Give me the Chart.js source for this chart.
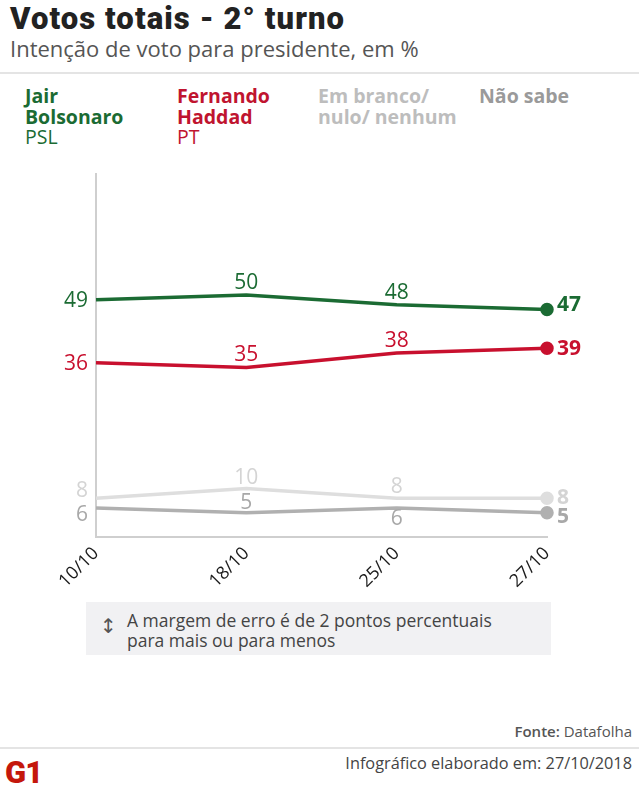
<!DOCTYPE html>
<html lang="pt-BR">
<head>
<meta charset="utf-8">
<script src="https://cdn.jsdelivr.net/npm/chart.js@4.4.1/dist/chart.umd.min.js"></script>
<style>
  html, body { margin:0; padding:0; background:#fff; }
  body { width:639px; height:793px; position:relative; overflow:hidden; font-family:"Open Sans", sans-serif; }
  .abs { position:absolute; white-space:nowrap; }
  #title { left:10px; top:3px; font:900 31px/1 Roboto, sans-serif; color:#222; letter-spacing:1.1px; }
  #subtitle { left:10px; top:37px; font:400 22px/1 "Open Sans", sans-serif; color:#555; }
  .rule { position:absolute; left:0; width:639px; height:2px; background:#e4e4e4; }
  .leg { position:absolute; top:86px; font-size:19.5px; line-height:20.5px; }
  .leg b { font-weight:700; }
  #box { left:86px; top:602px; width:465px; height:53px; background:#f1f1f3; }
  #arrow { left:100px; top:616px; font:400 20px/1 "DejaVu Sans", sans-serif; color:#555; }
  #boxtext { left:127px; top:610px; font:400 17.5px/20px "Open Sans", sans-serif; color:#444; }
  #fonte { right:7px; top:724px; font:400 15px/1 "Open Sans", sans-serif; color:#555; }
  #fonte b { font-weight:600; }
  #made { right:7px; top:755px; font:400 16.3px/1 "Open Sans", sans-serif; color:#444; }
  #logo { left:5px; top:757px; font:900 31px/1 Roboto, sans-serif; color:#c4170c; letter-spacing:-1px; }
  #chart { position:absolute; left:0; top:160px; }
</style>
</head>
<body>
<div id="title" class="abs">Votos totais - 2° turno</div>
<div id="subtitle" class="abs">Intenção de voto para presidente, em %</div>
<div class="rule" style="top:72px"></div>

<div class="leg" style="left:25px;color:#1b6b33"><b>Jair<br>Bolsonaro</b><br>PSL</div>
<div class="leg" style="left:177px;color:#c0142f"><b>Fernando<br>Haddad</b><br>PT</div>
<div class="leg" style="left:318px;color:#bdbdbd"><b>Em branco/<br>nulo/ nenhum</b></div>
<div class="leg" style="left:479px;color:#9a9a9a"><b>Não sabe</b></div>

<canvas id="chart" width="639" height="440"></canvas>

<div id="box" class="abs"></div>
<div id="arrow" class="abs">↕</div>
<div id="boxtext" class="abs">A margem de erro é de 2 pontos percentuais<br>para mais ou para menos</div>

<div id="fonte" class="abs"><b>Fonte:</b> Datafolha</div>
<div class="rule" style="top:747px"></div>
<div id="made" class="abs">Infográfico elaborado em: 27/10/2018</div>
<div id="logo" class="abs">G1</div>

<script>
// survey dates and results (%)
const dates = ['10/10', '18/10', '25/10', '27/10'];
const bolsonaro = [49, 50, 48, 47];
const haddad = [36, 35, 38, 39];
const brancoNulo = [8, 10, 8, 8];
const naoSabe = [6, 5, 6, 5];

// vertical nudge of each value label (px), keeps them off the lines
const shiftBolsonaro = [0, -14, -13, -6];
const shiftHaddad = [0, -14, -14, -1];
const shiftBranco = [-9, -12, -13, -2];
const shiftNaoSabe = [6, -11, 10, 3];

function series(label, data, color, textColor, shift){
  return {
    label,
    data,
    borderColor: color,
    backgroundColor: color,
    borderWidth: 3.5,
    tension: 0,
    pointRadius: data.map((v, i) => i === data.length - 1 ? 5 : 0),
    pointHoverRadius: 0,
    clip: false,
    labelColor: textColor,
    labelShift: shift
  };
}

// draws the numbers next to each point
const valueLabels = {
  id: 'valueLabels',
  afterDatasetsDraw(chart){
    const ctx = chart.ctx;
    chart.data.datasets.forEach((ds, di) => {
      const meta = chart.getDatasetMeta(di);
      const last = ds.data.length - 1;
      meta.data.forEach((pt, i) => {
        ctx.save();
        ctx.fillStyle = ds.labelColor;
        ctx.textBaseline = 'alphabetic';
        let x = pt.x;
        const y = pt.y + ds.labelShift[i] + 7.5;
        if (i === 0){
          ctx.textAlign = 'right';
          ctx.font = '400 21px "Open Sans"';
          x -= 8;
        } else if (i === last){
          ctx.textAlign = 'left';
          ctx.font = '700 21px "Open Sans"';
          x += 10;
        } else {
          ctx.textAlign = 'center';
          ctx.font = '400 21px "Open Sans"';
        }
        ctx.fillText(String(ds.data[i]), x, y);
        ctx.restore();
      });
    });
  }
};

new Chart(document.getElementById('chart').getContext('2d'), {
  type: 'line',
  data: {
    labels: dates,
    datasets: [
      series('Jair Bolsonaro', bolsonaro, '#1b6b33', '#1b6b33', shiftBolsonaro),
      series('Fernando Haddad', haddad, '#c8102e', '#c8102e', shiftHaddad),
      series('Em branco/ nulo/ nenhum', brancoNulo, '#dedede', '#d4d4d4', shiftBranco),
      series('Não sabe', naoSabe, '#b0b0b0', '#a8a8a8', shiftNaoSabe)
    ]
  },
  options: {
    responsive: false,
    animation: false,
    events: [],
    layout: { padding: { left: 96, top: 14, right: 92, bottom: 0 } },
    plugins: { legend: { display: false }, tooltip: { enabled: false } },
    scales: {
      x: {
        offset: false,
        grid: { drawOnChartArea: false, drawTicks: false },
        border: { color: '#cfcfcf', width: 2 },
        ticks: {
          color: '#1a1a1a',
          font: { family: '"Open Sans"', size: 18 },
          minRotation: 45,
          maxRotation: 45,
          padding: 6
        },
        afterFit(s){ s.height = 63; }
      },
      y: {
        min: 0,
        max: 75,
        grid: { drawOnChartArea: false, drawTicks: false },
        border: { color: '#cfcfcf', width: 2 },
        ticks: { display: false },
        afterFit(s){ s.width = 0; }
      }
    }
  },
  plugins: [valueLabels]
});
</script>
</body>
</html>
